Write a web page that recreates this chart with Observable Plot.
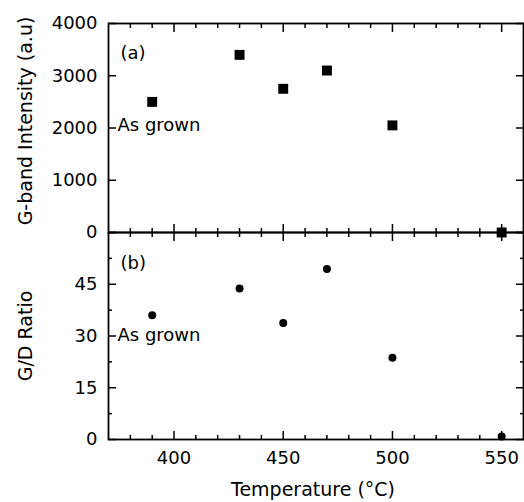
<!DOCTYPE html>
<html><head><meta charset="utf-8">
<script src="https://cdn.jsdelivr.net/npm/d3@7"></script>
<script src="https://cdn.jsdelivr.net/npm/@observablehq/plot@0.6"></script>
<style>
body{margin:0;background:#fff}
#c{position:relative;width:524px;height:502px}
#c svg{position:absolute;left:0;top:0}
</style>
</head><body><div id="c"></div>
<script>
// Data
const temps = [390, 430, 450, 470, 500, 550];
const gBand = [2500, 3400, 2750, 3100, 2050, 0];
const gdRatio = [36, 43.8, 33.8, 49.4, 23.7, 0.9];

// Tick values
const xMajor = [400, 450, 500, 550];
const xMinor = [380, 390, 410, 420, 430, 440, 460, 470, 480, 490, 510, 520, 530, 540];
const yTopMajor = [0, 1000, 2000, 3000, 4000];
const yBotMajor = [0, 15, 30, 45, 60];
const yBotLabels = [0, 15, 30, 45];
const yBotMinor = [7.5, 22.5, 37.5, 52.5];

const topData = temps.map((t, i) => ({t, v: gBand[i]}));
const botData = temps.map((t, i) => ({t, v: gdRatio[i]}));

const W = 524, H = 502;
const style = {fontFamily: "'DejaVu Sans', sans-serif", fontSize: "18px", background: "transparent", overflow: "visible", color: "black"};
const blank = () => "";
const plain = d => String(d);

function xTicks(anchor) {
  return [
    Plot.axisX(xMajor, {anchor, tickSize: -8, tickFormat: blank, label: null, strokeWidth: 1.5}),
    Plot.axisX(xMinor, {anchor, tickSize: -4, tickFormat: blank, label: null, strokeWidth: 1.5})
  ];
}
function yTicks(major, minor) {
  const m = [];
  for (const anchor of ["left", "right"]) {
    m.push(Plot.axisY(major, {anchor, tickSize: -8, tickFormat: blank, label: null, strokeWidth: 1.5}));
    if (minor) m.push(Plot.axisY(minor, {anchor, tickSize: -4, tickFormat: blank, label: null, strokeWidth: 1.5}));
  }
  return m;
}

const topPanel = Plot.plot({
  width: W, height: H,
  marginTop: 23, marginBottom: H - 232, marginLeft: 108, marginRight: 1,
  style,
  x: {domain: [370, 560]},
  y: {domain: [0, 4000]},
  marks: [
    ...xTicks("top"), ...xTicks("bottom"),
    ...yTicks(yTopMajor, null),
    Plot.axisY(yTopMajor, {anchor: "left", tickSize: 0, tickPadding: 11, label: null, tickFormat: plain}),
    Plot.frame({stroke: "black", strokeWidth: 1.8}),
    Plot.text(["G-band Intensity (a.u)"], {frameAnchor: "left", rotate: -90, dx: -83, dy: -7, textAnchor: "middle", lineAnchor: "middle", fontSize: 19}),
    Plot.text(["(a)"], {frameAnchor: "top-left", dx: 12, dy: 30, lineAnchor: "middle", textAnchor: "start"}),
    Plot.text(["As grown"], {frameAnchor: "top-left", dx: 9, dy: 102, lineAnchor: "middle", textAnchor: "start"}),
    Plot.dot(topData, {x: "t", y: "v", symbol: "square", r: 5.6, fill: "black", stroke: null})
  ]
});

const botPanel = Plot.plot({
  width: W, height: H,
  marginTop: 232, marginBottom: H - 439, marginLeft: 108, marginRight: 1,
  style,
  x: {domain: [370, 560]},
  y: {domain: [0, 60]},
  marks: [
    ...xTicks("top"), ...xTicks("bottom"),
    ...yTicks(yBotMajor, yBotMinor),
    Plot.axisY(yBotLabels, {anchor: "left", tickSize: 0, tickPadding: 11, label: null, tickFormat: plain}),
    Plot.axisX(xMajor, {anchor: "bottom", tickSize: 0, tickPadding: 12, label: null, tickFormat: plain}),
    Plot.frame({stroke: "black", strokeWidth: 1.8}),
    Plot.text(["G/D Ratio"], {frameAnchor: "left", rotate: -90, dx: -83, textAnchor: "middle", lineAnchor: "middle", fontSize: 19}),
    Plot.text(["Temperature (°C)"], {frameAnchor: "bottom", dx: -3, dy: 50, textAnchor: "middle", lineAnchor: "middle", fontSize: 19}),
    Plot.text(["(b)"], {frameAnchor: "top-left", dx: 12, dy: 31, lineAnchor: "middle", textAnchor: "start"}),
    Plot.text(["As grown"], {frameAnchor: "top-left", dx: 9, dy: 103, lineAnchor: "middle", textAnchor: "start"}),
    Plot.dot(botData, {x: "t", y: "v", r: 4, fill: "black", stroke: null})
  ]
});

const c = document.getElementById("c");
c.appendChild(botPanel);
c.appendChild(topPanel);
</script>
</body></html>
